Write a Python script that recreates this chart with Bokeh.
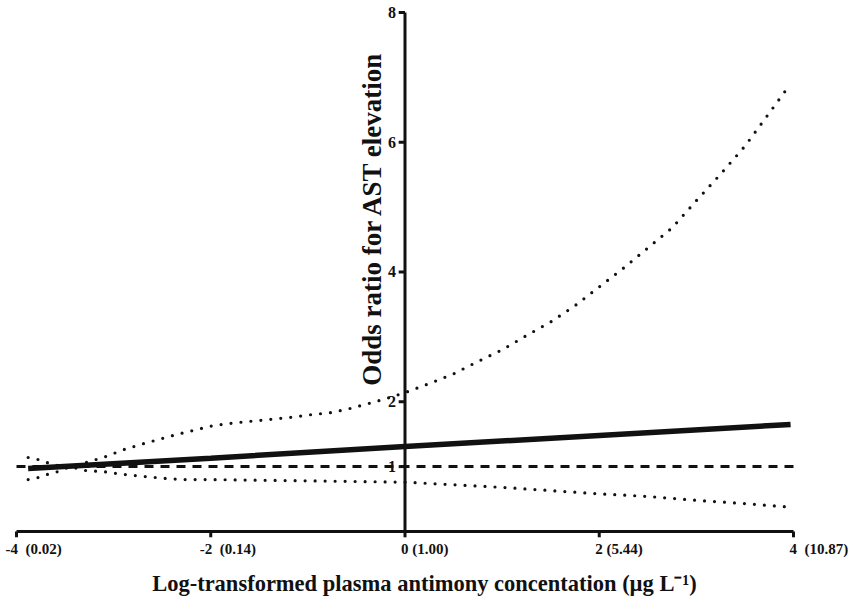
import math
from bokeh.plotting import figure
from bokeh.models import Range1d
from bokeh.core.properties import value
from bokeh.embed import file_html
from bokeh.resources import INLINE

# ---------------- data ----------------
x_ticks = [-4, -2, 0, 2, 4]
x_tick_numbers = ["-4", "-2", "0", "2", "4"]
x_tick_labels = ["-4\u00a0\u00a0(0.02)", "-2\u00a0\u00a0(0.14)", "0\u00a0(1.00)",
                 "2\u00a0(5.44)", "4\u00a0\u00a0(10.87)"]
y_ticks = [1, 2, 4, 6, 8]
y_tick_labels = ["1", "2", "4", "6", "8"]
x_title = "Log-transformed plasma antimony concentation (\u00b5g L\u207b\u00b9)"
y_title = "Odds ratio for AST elevation"

or_x = [-3.88, -2.0, 0.0, 2.0, 3.97]
or_y = [0.97, 1.13, 1.31, 1.48, 1.65]

upper_x = [-3.88, -3.78, -3.68, -3.58, -3.45, -3.29, -3.09, -2.90, -2.70, -2.51,
           -2.31, -2.12, -1.98, -1.78, -1.58, -1.37, -1.17, -0.97, -0.77, -0.58,
           -0.38, -0.19, 0.0, 0.25, 0.5, 0.75, 1.0, 1.25, 1.5, 1.75, 2.0, 2.25,
           2.5, 2.75, 3.0, 3.25, 3.5, 3.75, 3.97]
upper_y = [1.14, 1.11, 1.06, 1.02, 1.00, 1.06, 1.15, 1.26, 1.35, 1.43,
           1.51, 1.58, 1.63, 1.67, 1.70, 1.73, 1.76, 1.80, 1.83, 1.89,
           1.97, 2.05, 2.14, 2.28, 2.43, 2.62, 2.80, 3.02, 3.23, 3.48, 3.77, 4.06,
           4.37, 4.68, 5.10, 5.51, 5.94, 6.45, 6.90]

lower_x = [-3.88, -3.78, -3.68, -3.58, -3.45, -3.29, -3.09, -2.90, -2.70, -2.49,
           -2.28, -2.0, -1.5, -1.0, -0.5, 0.0, 0.5, 1.0, 1.5, 2.0, 2.5, 3.0, 3.5, 3.92]
lower_y = [0.80, 0.83, 0.88, 0.92, 1.00, 0.94, 0.92, 0.88, 0.85, 0.82,
           0.80, 0.80, 0.79, 0.78, 0.77, 0.76, 0.72, 0.68, 0.63, 0.58, 0.54, 0.48, 0.43, 0.38]

ref_x = [-4, 4]
ref_y = [1, 1]

# ---------------- figure ----------------
W, H = 854, 600
p = figure(width=W, height=H,
           x_range=Range1d(-4.1647, 4.628), y_range=Range1d(-1.064, 8.185),
           output_backend="svg", toolbar_location=None,
           x_axis_type=None, y_axis_type=None, min_border=0)
p.outline_line_color = None
p.background_fill_color = "white"
p.border_fill_color = "white"

FONT = value("Liberation Serif")
INK = "#111111"

# reference line OR = 1
p.line(ref_x, ref_y, line_color=INK, line_width=3, line_dash="9 7")

# confidence limits (dotted)
p.line(upper_x, upper_y, line_color=INK, line_width=3.2, line_dash="0 10", line_cap="round")
p.line(lower_x, lower_y, line_color=INK, line_width=3.2, line_dash="0 10", line_cap="round")

# odds ratio
p.line(or_x, or_y, line_color=INK, line_width=5.5)

# ---- x axis (at y = 0) ----
p.segment(x0=[x_ticks[0]], y0=[0], x1=[x_ticks[-1]], y1=[0], line_color=INK, line_width=3)
p.segment(x0=x_ticks, y0=[0] * len(x_ticks), x1=x_ticks, y1=[-0.09] * len(x_ticks),
          line_color=INK, line_width=3)
offs = [-7 * len(n) + 3 for n in x_tick_numbers]
p.text(x=x_ticks, y=[0] * len(x_ticks), text=x_tick_labels, x_offset=offs, y_offset=18,
       text_align="left", text_baseline="middle", text_font=FONT, text_font_style="bold",
       text_font_size="15px", text_color=INK)
p.text(x=[0.2], y=[0], text=[x_title], y_offset=52, text_align="center", text_baseline="middle",
       text_font=FONT, text_font_style="bold", text_font_size="22.5px", text_color=INK)

# ---- y axis (at x = 0) ----
p.segment(x0=[0], y0=[0], x1=[0], y1=[y_ticks[-1]], line_color=INK, line_width=3)
p.segment(x0=[0] * len(y_ticks), y0=y_ticks, x1=[-0.065] * len(y_ticks), y1=y_ticks,
          line_color=INK, line_width=3)
p.text(x=[0] * len(y_ticks), y=y_ticks, text=y_tick_labels, x_offset=-9,
       text_align="right", text_baseline="middle", text_font=FONT, text_font_style="bold",
       text_font_size="16px", text_color=INK)
p.text(x=[-0.335], y=[4.825], text=[y_title], angle=math.pi / 2,
       text_align="center", text_baseline="middle", text_font=FONT, text_font_style="bold",
       text_font_size="27px", text_color=INK)

open("out.html", "w").write(file_html(p, INLINE))
